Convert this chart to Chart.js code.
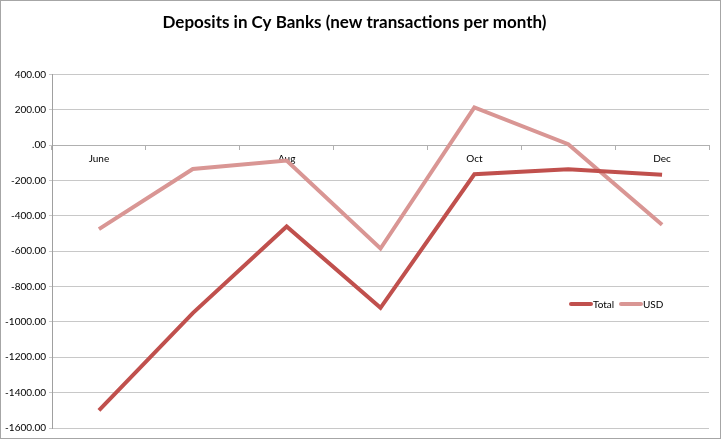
<!DOCTYPE html>
<html>
<head>
<meta charset="utf-8">
<script src="https://cdn.jsdelivr.net/npm/chart.js@4/dist/chart.umd.min.js"></script>
<style>
html,body{margin:0;padding:0;background:#fff;}
#wrap{position:relative;width:722px;height:441px;}
</style>
</head>
<body>
<div id="wrap"><canvas id="c" width="722" height="441"></canvas></div>
<script>
const categories = ['June', 'July', 'Aug', 'Sep', 'Oct', 'Nov', 'Dec'];
const totalValues = [-1500, -950, -460, -920, -165, -137, -167];
const usdValues = [-475, -135, -87, -585, 213, 5, -450];
const seriesNames = ['Total', 'USD'];
const titleText = 'Deposits in Cy Banks (new transactions per month)';

const colTotal = '#C0504D';
const colUSD = '#D99694';

const frameAndLegend = {
  id: 'frameAndLegend',
  afterDraw(chart) {
    const ctx = chart.ctx;
    ctx.save();
    ctx.strokeStyle = '#a6a6a6';
    ctx.lineWidth = 1;
    ctx.strokeRect(0.5, 0.5, 720, 438);
    // legend
    const y = 304;
    const items = [
      {x: 570, color: chart.data.datasets[0].borderColor, label: chart.data.datasets[0].label},
      {x: 620, color: chart.data.datasets[1].borderColor, label: chart.data.datasets[1].label}
    ];
    ctx.font = '10px Lato';
    ctx.textBaseline = 'middle';
    ctx.textAlign = 'left';
    items.forEach(it => {
      ctx.strokeStyle = it.color;
      ctx.lineWidth = 4;
      ctx.lineCap = 'round';
      ctx.beginPath();
      ctx.moveTo(it.x + 1, y);
      ctx.lineTo(it.x + 21, y);
      ctx.stroke();
      ctx.fillStyle = '#000';
      ctx.fillText(it.label, it.x + 23, y + 1);
    });
    ctx.restore();
  }
};

new Chart(document.getElementById('c'), {
  type: 'line',
  data: {
    labels: categories,
    datasets: [
      {label: seriesNames[0], data: totalValues, borderColor: colTotal, backgroundColor: colTotal, borderWidth: 4, pointRadius: 0, tension: 0, fill: false},
      {label: seriesNames[1], data: usdValues, borderColor: colUSD, backgroundColor: colUSD, borderWidth: 4, pointRadius: 0, tension: 0, fill: false}
    ]
  },
  options: {
    responsive: false,
    animation: false,
    layout: {padding: {left: 0, right: 13, top: 0, bottom: 13}},
    plugins: {
      legend: {display: false},
      tooltip: {enabled: false},
      title: {
        display: true,
        text: titleText,
        color: '#000',
        font: {family: 'Lato', size: 17, weight: 'bold'},
        padding: {top: 12, bottom: 42}
      }
    },
    scales: {
      x: {
        position: {y: 0},
        offset: true,
        grid: {display: true, offset: true, drawOnChartArea: false, drawTicks: true, tickLength: 4, color: '#b0b0b0'},
        border: {display: true, color: '#b0b0b0'},
        ticks: {
          autoSkip: false,
          maxRotation: 0,
          padding: 4,
          color: '#000',
          font: {family: 'Lato', size: 10},
          callback: function(v, i) { return i % 2 === 0 ? this.getLabelForValue(v) : ''; }
        }
      },
      y: {
        min: -1600,
        max: 400,
        afterFit: s => { s.width = 52; },
        grid: {color: '#c8c8c8', lineWidth: 1, tickLength: 3},
        border: {display: true, color: '#a0a0a0'},
        ticks: {
          stepSize: 200,
          padding: 3,
          color: '#000',
          font: {family: 'Lato', size: 10},
          callback: v => { const s = Number(v).toFixed(2); return s === '0.00' ? '.00' : s; }
        }
      }
    }
  },
  plugins: [frameAndLegend]
});
</script>
</body>
</html>
